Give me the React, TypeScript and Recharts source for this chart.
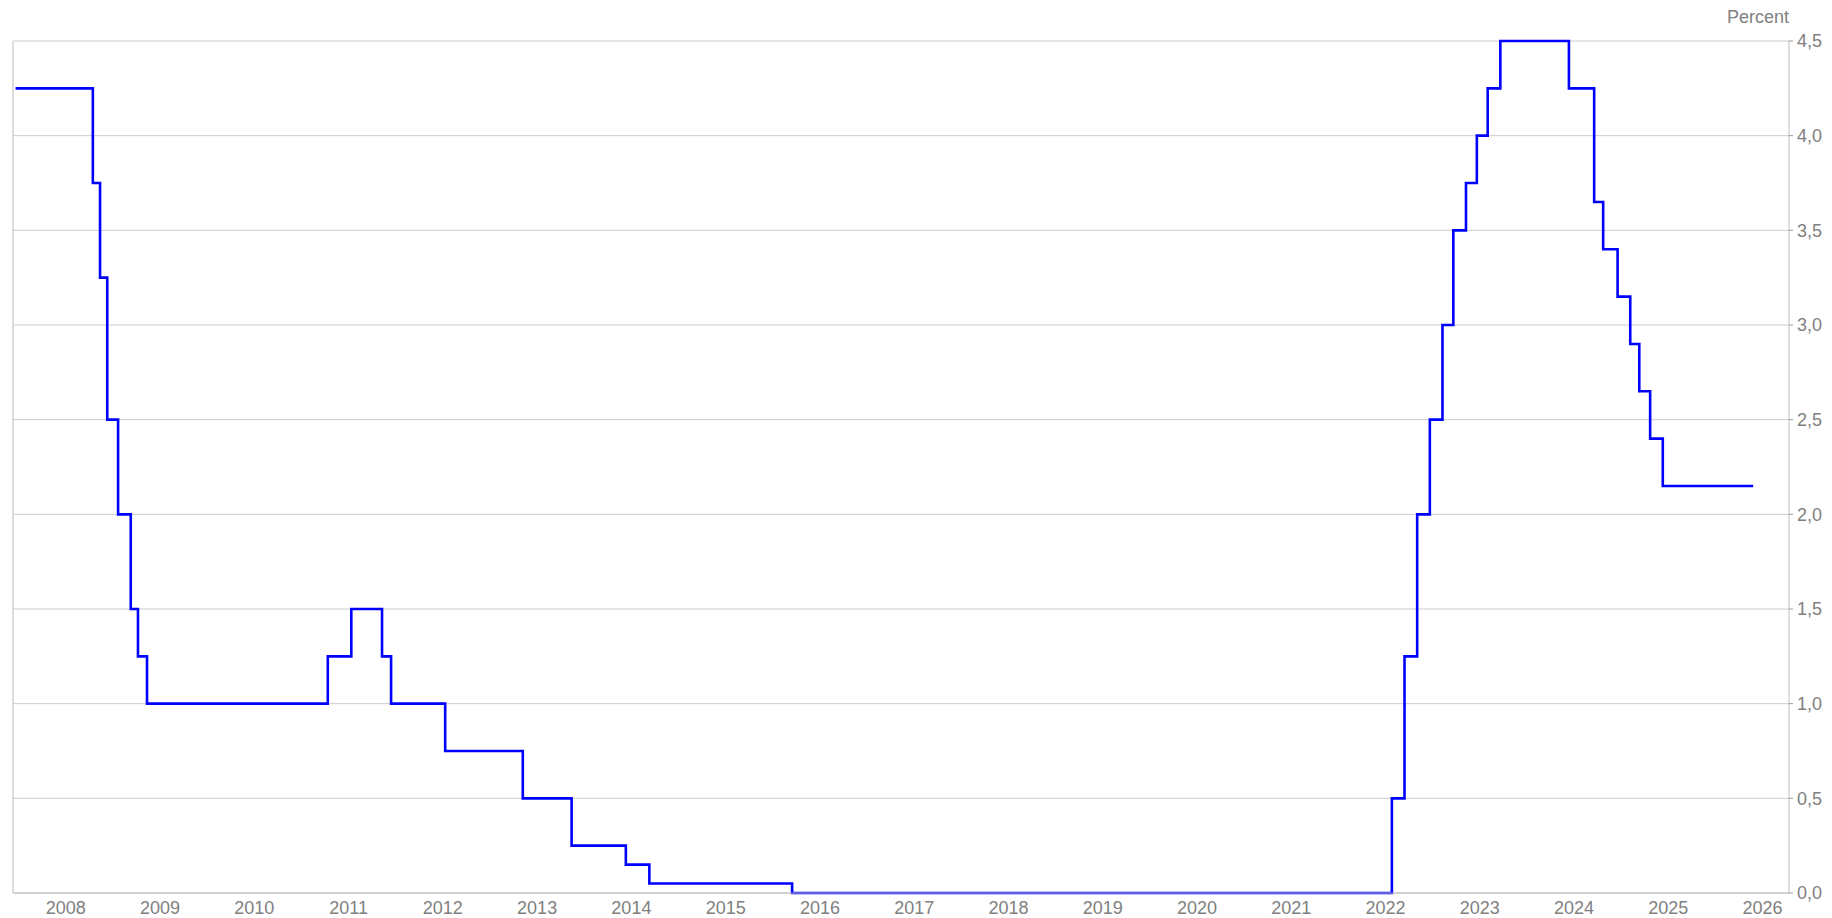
import React from "react";
import {
  LineChart,
  Line,
  XAxis,
  YAxis,
  CartesianGrid,
  ReferenceLine,
} from "recharts";

// Step dates (rate valid from this date) and the rate in percent
const changeDates = [
  "2007-12-20", "2008-10-15", "2008-11-12", "2008-12-10", "2009-01-21",
  "2009-03-11", "2009-04-08", "2009-05-13", "2011-04-13", "2011-07-13",
  "2011-11-09", "2011-12-14", "2012-07-11", "2013-05-08", "2013-11-13",
  "2014-06-11", "2014-09-10", "2016-03-16", "2022-07-27", "2022-09-14",
  "2022-11-02", "2022-12-21", "2023-02-08", "2023-03-22", "2023-05-10",
  "2023-06-21", "2023-08-02", "2023-09-20", "2024-06-12", "2024-09-18",
  "2024-10-23", "2024-12-18", "2025-02-05", "2025-03-12", "2025-04-23",
  "2025-06-11", "2026-05-27",
];
const rates = [
  4.25, 3.75, 3.25, 2.5, 2.0,
  1.5, 1.25, 1.0, 1.25, 1.5,
  1.25, 1.0, 0.75, 0.5, 0.25,
  0.15, 0.05, 0.0, 0.5, 1.25,
  2.0, 2.5, 3.0, 3.5, 3.75,
  4.0, 4.25, 4.5, 4.25, 3.65,
  3.4, 3.15, 2.9, 2.65, 2.4,
  2.15, 2.15,
];

const yearTicks = [
  2008, 2009, 2010, 2011, 2012, 2013, 2014, 2015, 2016, 2017,
  2018, 2019, 2020, 2021, 2022, 2023, 2024, 2025, 2026,
];
const yearLabels = yearTicks.map((y) => y + 0.5);
const percentTicks = [0, 0.5, 1, 1.5, 2, 2.5, 3, 3.5, 4, 4.5];
const xDomain = [2007.94, 2026.78];

function toDecimalYear(s: string): number {
  const [y, m, d] = s.split("-").map(Number);
  const start = Date.UTC(y, 0, 1);
  const end = Date.UTC(y + 1, 0, 1);
  const cur = Date.UTC(y, m - 1, d);
  return y + (cur - start) / (end - start);
}

const data = changeDates.map((d, i) => ({ t: toDecimalYear(d), r: rates[i] }));

const FONT = "'Liberation Sans', Arial, sans-serif";
const TEXT = "#808080";
const AXIS = "#bdbdbd";
const GRID = "#cccccc";

const PercentLabel = (props: any) => {
  const vb = props.viewBox || {};
  return (
    <text
      x={vb.x}
      y={vb.y - 18}
      textAnchor="end"
      fill={TEXT}
      fontSize={18}
      fontFamily={FONT}
    >
      Percent
    </text>
  );
};

export default function App() {
  return (
    <div style={{ position: "absolute", left: 0, top: 0, fontFamily: FONT }}>
      <LineChart
        width={1832}
        height={918}
        data={data}
        margin={{ top: 41, right: 0, bottom: 0, left: 13 }}
      >
        <CartesianGrid vertical={false} stroke={GRID} strokeWidth={1} />
        <XAxis
          xAxisId="a"
          dataKey="t"
          type="number"
          domain={xDomain}
          allowDataOverflow
          ticks={yearTicks}
          interval={0}
          tick={false}
          tickSize={4}
          height={1}
          axisLine={{ stroke: AXIS }}
          tickLine={{ stroke: "#999" }}
        />
        <XAxis
          xAxisId="b"
          dataKey="t"
          type="number"
          domain={xDomain}
          allowDataOverflow
          ticks={yearLabels}
          interval={0}
          tickFormatter={(v: number) => String(Math.floor(v))}
          tickLine={false}
          axisLine={false}
          tickSize={0}
          tickMargin={7}
          height={24}
          tick={{ fill: TEXT, fontSize: 18, fontFamily: FONT }}
        />
        <YAxis
          orientation="right"
          type="number"
          domain={[0, 4.5]}
          ticks={percentTicks}
          interval={0}
          width={43}
          tickSize={4}
          tickMargin={4}
          axisLine={{ stroke: AXIS }}
          tickLine={{ stroke: "#999" }}
          tickFormatter={(v: number) => v.toFixed(1).replace(".", ",")}
          tick={{ fill: TEXT, fontSize: 18, fontFamily: FONT, textAnchor: "start" }}
          label={<PercentLabel />}
        />
        <ReferenceLine xAxisId="a" x={xDomain[0]} stroke={AXIS} strokeWidth={1} />
        <Line
          xAxisId="a"
          type="stepAfter"
          dataKey="r"
          stroke="#0000ff"
          strokeWidth={2.6}
          dot={false}
          isAnimationActive={false}
        />
      </LineChart>
    </div>
  );
}
